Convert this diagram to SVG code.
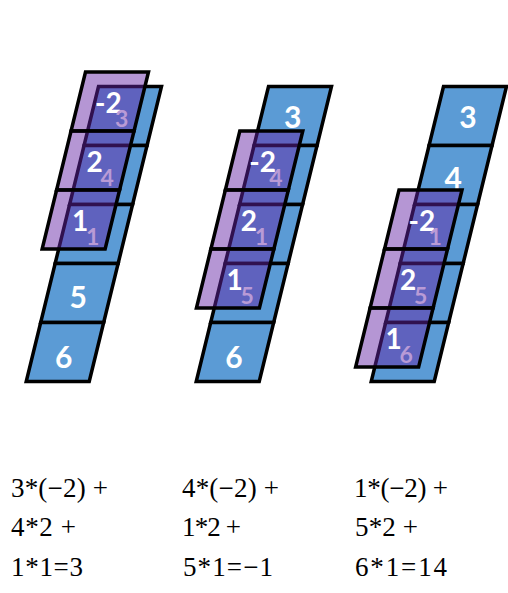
<svg xmlns="http://www.w3.org/2000/svg" xmlns:xlink="http://www.w3.org/1999/xlink" width="508" height="593" viewBox="0 0 508 593">
<style>
.blue{fill:#5b9bd5;stroke:#000;stroke-width:3.5;stroke-linejoin:miter}
.purp{fill:#6423a5;fill-opacity:0.48;stroke:#000;stroke-width:3.5;stroke-linejoin:miter}
.bl{font-family:Lato,"Open Sans",sans-serif;font-weight:bold;font-size:30px;fill:#fff;text-anchor:middle}
.pm{font-family:Lato,"Open Sans",sans-serif;font-weight:bold;font-size:28px;fill:#fff}
.ps{font-family:Lato,"Open Sans",sans-serif;font-weight:bold;font-size:23px;fill:#b99bd6}
.eq{font-family:"Liberation Serif","Times New Roman",serif;font-size:27px;fill:#000}
</style>
<defs>
<polygon id="cell" points="0,0 63,0 48.545,59 -14.455,59"/>
</defs>
<rect width="508" height="593" fill="#fff"/>

<g id="col1">
<g id="c1-b0"><use xlink:href="#cell" class="blue" x="98.5" y="86.5"/></g>
<g id="c1-b1"><use xlink:href="#cell" class="blue" x="84.05" y="145.5"/></g>
<g id="c1-b2"><use xlink:href="#cell" class="blue" x="69.59" y="204.5"/></g>
<g id="c1-b3"><use xlink:href="#cell" class="blue" x="55.14" y="263.5"/><text class="bl" x="78.3" y="307.5">5</text></g>
<g id="c1-b4"><use xlink:href="#cell" class="blue" x="40.68" y="322.5"/><text class="bl" x="63.8" y="368">6</text></g>
<g id="c1-p0"><use xlink:href="#cell" class="purp" x="85.5" y="72"/><text class="pm" x="95" y="112.5">-2</text><text class="ps" x="115" y="127">3</text></g>
<g id="c1-p1"><use xlink:href="#cell" class="purp" x="71.05" y="131"/><text class="pm" x="86.5" y="171.5">2</text><text class="ps" x="100.5" y="186">4</text></g>
<g id="c1-p2"><use xlink:href="#cell" class="purp" x="56.59" y="190"/><text class="pm" x="72" y="230.5">1</text><text class="ps" x="86" y="245">1</text></g>
</g>

<g id="col2">
<g id="c2-b0"><use xlink:href="#cell" class="blue" x="268.5" y="86.5"/><text class="bl" x="292.7" y="127.5">3</text></g>
<g id="c2-b1"><use xlink:href="#cell" class="blue" x="254.05" y="145.5"/></g>
<g id="c2-b2"><use xlink:href="#cell" class="blue" x="239.59" y="204.5"/></g>
<g id="c2-b3"><use xlink:href="#cell" class="blue" x="225.14" y="263.5"/></g>
<g id="c2-b4"><use xlink:href="#cell" class="blue" x="210.68" y="322.5"/><text class="bl" x="234" y="367.5">6</text></g>
<g id="c2-p0"><use xlink:href="#cell" class="purp" x="239.8" y="131"/><text class="pm" x="249.3" y="171.5">-2</text><text class="ps" x="269.3" y="186">4</text></g>
<g id="c2-p1"><use xlink:href="#cell" class="purp" x="225.35" y="190"/><text class="pm" x="240.8" y="230.5">2</text><text class="ps" x="254.8" y="245">1</text></g>
<g id="c2-p2"><use xlink:href="#cell" class="purp" x="210.89" y="249"/><text class="pm" x="226.4" y="289.5">1</text><text class="ps" x="240.4" y="304">5</text></g>
</g>

<g id="col3">
<g id="c3-b0"><use xlink:href="#cell" class="blue" x="443.5" y="86.5"/><text class="bl" x="468" y="127.5">3</text></g>
<g id="c3-b1"><use xlink:href="#cell" class="blue" x="429.05" y="145.5"/><text class="bl" x="453.3" y="189">4</text></g>
<g id="c3-b2"><use xlink:href="#cell" class="blue" x="414.59" y="204.5"/></g>
<g id="c3-b3"><use xlink:href="#cell" class="blue" x="400.14" y="263.5"/></g>
<g id="c3-b4"><use xlink:href="#cell" class="blue" x="385.68" y="322.5"/></g>
<g id="c3-p0"><use xlink:href="#cell" class="purp" x="399" y="190"/><text class="pm" x="408.5" y="230.5">-2</text><text class="ps" x="428.5" y="245">1</text></g>
<g id="c3-p1"><use xlink:href="#cell" class="purp" x="384.55" y="249"/><text class="pm" x="400" y="289.5">2</text><text class="ps" x="414" y="304">5</text></g>
<g id="c3-p2"><use xlink:href="#cell" class="purp" x="370.09" y="308"/><text class="pm" x="385.6" y="348.5">1</text><text class="ps" x="399.6" y="363">6</text></g>
</g>

<g id="connectors"/>

<g id="equations" font-family="'Liberation Serif', 'Times New Roman', serif">
<text class="eq" x="11" y="497" textLength="97" lengthAdjust="spacing">3*(−2) +</text>
<text class="eq" x="11" y="536" textLength="65" lengthAdjust="spacing">4*2 +</text>
<text class="eq" x="11" y="576" textLength="72" lengthAdjust="spacing">1*1=3</text>
<text class="eq" x="182" y="497" textLength="97" lengthAdjust="spacing">4*(−2) +</text>
<text class="eq" x="182" y="536" textLength="59" lengthAdjust="spacing">1*2 +</text>
<text class="eq" x="183" y="576" textLength="90" lengthAdjust="spacing">5*1=−1</text>
<text class="eq" x="354" y="497" textLength="94" lengthAdjust="spacing">1*(−2) +</text>
<text class="eq" x="355" y="536" textLength="63" lengthAdjust="spacing">5*2 +</text>
<text class="eq" x="355" y="576" textLength="92" lengthAdjust="spacing">6*1=14</text>
</g>
</svg>
